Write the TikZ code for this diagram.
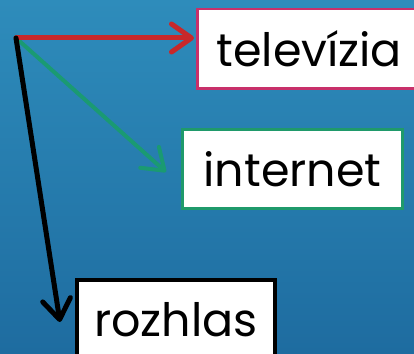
\documentclass[tikz,border=0pt]{standalone}
\usepackage{fontspec}
\setmainfont{Poppins}
\usetikzlibrary{arrows.meta,calc}
\definecolor{bgtop}{HTML}{2E8CBB}
\definecolor{bgbot}{HTML}{1E6CA0}
\definecolor{redarr}{HTML}{C8282A}
\definecolor{greenarr}{HTML}{1A9A72}
\definecolor{crimsonb}{HTML}{C8306A}
\definecolor{greenb}{HTML}{1F9A6B}
\tikzset{
  x=1pt,y=-1pt,
  box/.style={draw, fill=white, line width=2.5pt, inner sep=0pt, anchor=north west,
    minimum height=79pt, text height=57pt, text depth=22pt, font=\fontsize{46}{52}\selectfont},
  arr/.style={line width=5pt, line cap=round, line join=round,
    -{Straight Barb[length=20pt,width=28pt,line cap=round,line join=round]}},
}
\begin{document}
\begin{tikzpicture}
\useasboundingbox (0,0) rectangle (414,353);
\shade[top color=bgtop, bottom color=bgbot] (0,0) rectangle (414,353);
\begin{scope}
\clip (0,0) rectangle (414,353);
\node[box, draw=crimsonb, minimum width=224pt] (tv) at (196,8) {televízia};
\node[box, draw=greenb, line width=3pt, minimum width=220pt] (net) at (181,128) {internet};
\node[box, draw=black, line width=3.5pt, minimum width=198pt] (radio) at (75,278) {rozhlas};
\end{scope}
\coordinate (o) at (16,38);
\coordinate (tvtip) at (194,38);
\coordinate (nettip) at (166,172);
\coordinate (radiotip) at (60,322);
\draw[arr, greenarr, line width=4pt] (o) -- (nettip);
\draw[arr, redarr] (o) -- (tvtip);
\draw[arr, black] (o) -- (radiotip);
\end{tikzpicture}
\end{document}
